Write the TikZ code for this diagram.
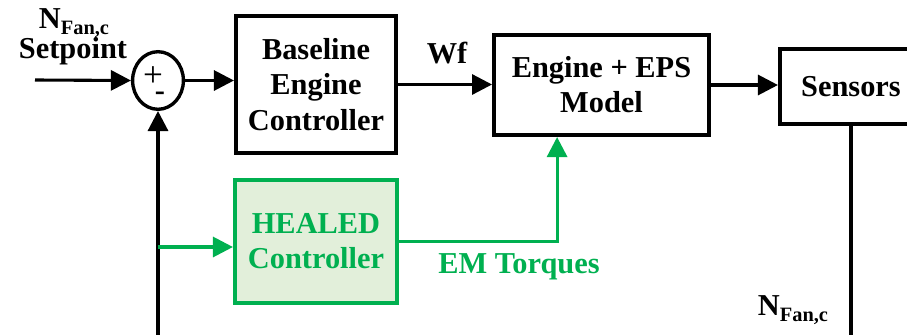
\documentclass[tikz,border=0pt]{standalone}
\usepackage{fontspec}
\setmainfont{Liberation Serif}[BoldFont={Liberation Serif Bold}]
\usetikzlibrary{arrows.meta,shapes.geometric}
\definecolor{cG}{HTML}{00B050}
\definecolor{cL}{HTML}{E2EFDA}
\newcommand{\nfan}{N\raisebox{-.5ex}{\fontsize{14.5}{15}\selectfont Fan,c}}
\tikzset{
  blk/.style={draw=black,line width=2.6pt,align=center,inner sep=2pt},
  gblk/.style={blk,draw=cG,fill=cL,text=cG},
  sumnode/.style={ellipse,draw,line width=2.4pt,minimum width=1.27cm,
              minimum height=1.44cm,inner sep=0pt},
  sig/.style={-{Triangle[length=5mm,width=5mm]},line width=2.2pt},
  gsig/.style={sig,cG},
  lbl/.style={anchor=base,inner sep=0pt},
}
\begin{document}
\begin{tikzpicture}[x=0.025cm,y=-0.025cm,font=\fontsize{21.6}{25}\selectfont\bfseries]
  \useasboundingbox (0,0) rectangle (907,335);
  \clip (0,0) rectangle (907,335);
  % blocks
  \node[sumnode](sum) at (158,80.5){};
  \node[inner sep=0pt,font=\fontsize{25}{25}\selectfont\mdseries](plus) at (153,77){+};
  \node[inner sep=0pt](minus) at (160,96){-};
  \node[blk,minimum width=4.01cm,minimum height=3.43cm](base) at (316,84.5){Baseline\\Engine\\Controller};
  \node[gblk,minimum width=4.06cm,minimum height=3.08cm](heal) at (316,241.5){HEALED\\Controller};
  \node[blk,minimum width=5.38cm,minimum height=2.51cm](eng) at (601.5,85){Engine + EPS\\Model};
  \node[blk,minimum width=3.56cm,minimum height=1.88cm](sens) at (851,86.5){Sensors};
  % labels
  \node[lbl](spN) at (74,28){\nfan};
  \node[lbl](spT) at (73,58){Setpoint};
  \node[lbl](wf) at (447,63){Wf};
  \node[lbl,text=cG](emt) at (519,273){EM Torques};
  \node[lbl](fbN) at (793,315){\nfan};
  % signals
  \coordinate (spin) at (35,80);
  \coordinate (fbL) at (158,335);
  \coordinate (fbR) at (851,335);
  \coordinate (tap) at (158,247);
  \draw[sig] (spin) -- (sum.west);
  \draw[sig] (sum.east) -- (sum.east -| base.west);
  \draw[sig] (base.east) -- (base.east -| eng.west);
  \draw[sig] (eng.east) -- (eng.east -| sens.west);
  \draw[line width=2.2pt] (sens.south) -- (fbR);
  \draw[sig] (fbL) -- (sum.south);
  \draw[gsig] (tap) -- (tap -| heal.west);
  \draw[gsig] (heal.east) -| ([xshift=-1.11cm]eng.south);
\end{tikzpicture}
\end{document}
